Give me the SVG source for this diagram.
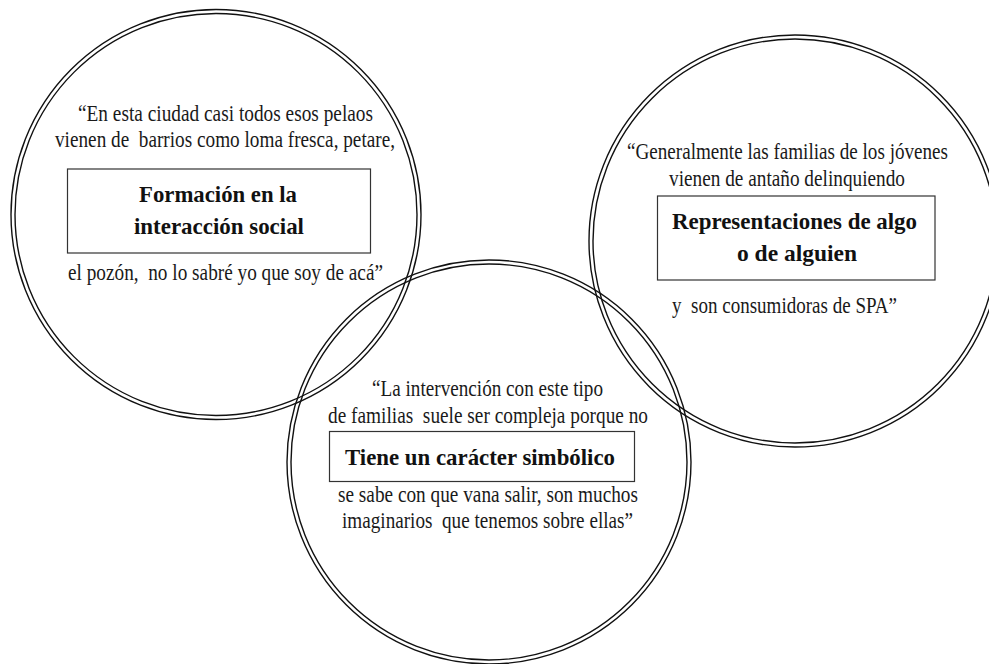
<svg xmlns="http://www.w3.org/2000/svg" width="989" height="664" viewBox="0 0 989 664">
<style>
.ring{fill:none;stroke:#111;stroke-width:1.4}
.box{fill:#fff;stroke:#333;stroke-width:1.2}
text{font-family:'Liberation Serif','Times New Roman','DejaVu Serif',serif;white-space:pre}
.q{font-size:23px;fill:#1a1a1a}
.t{font-size:24px;font-weight:bold;fill:#111}
</style>
<rect width="989" height="664" fill="#fff"/>
<g id="node-formacion" font-family="Liberation Serif, serif">
<circle class="ring" cx="216" cy="214.5" r="205"/>
<circle class="ring" cx="216" cy="214.5" r="201"/>
<text class="q" x="78" y="121" textLength="295" lengthAdjust="spacingAndGlyphs">“En esta ciudad casi todos esos pelaos</text>
<text class="q" x="55" y="147" textLength="340" lengthAdjust="spacingAndGlyphs">vienen de  barrios como loma fresca, petare,</text>
<rect class="box" x="67.5" y="169" width="303" height="84"/>
<text class="t" x="139" y="202" textLength="158" lengthAdjust="spacingAndGlyphs">Formación en la</text>
<text class="t" x="134" y="234" textLength="170" lengthAdjust="spacingAndGlyphs">interacción social</text>
<text class="q" x="68" y="280" textLength="315" lengthAdjust="spacingAndGlyphs">el pozón,  no lo sabré yo que soy de acá”</text>
</g>
<g id="node-representaciones" font-family="Liberation Serif, serif">
<circle class="ring" cx="795" cy="241" r="206"/>
<circle class="ring" cx="795" cy="241" r="202"/>
<text class="q" x="627" y="159" textLength="321" lengthAdjust="spacingAndGlyphs">“Generalmente las familias de los jóvenes</text>
<text class="q" x="669" y="186" textLength="236" lengthAdjust="spacingAndGlyphs">vienen de antaño delinquiendo</text>
<rect class="box" x="657.5" y="196" width="277.5" height="84"/>
<text class="t" x="672" y="229" textLength="245" lengthAdjust="spacingAndGlyphs">Representaciones de algo</text>
<text class="t" x="737" y="261" textLength="120" lengthAdjust="spacingAndGlyphs">o de alguien</text>
<text class="q" x="672" y="313" textLength="225" lengthAdjust="spacingAndGlyphs">y  son consumidoras de SPA”</text>
</g>
<g id="node-simbolico" font-family="Liberation Serif, serif">
<circle class="ring" cx="489" cy="462" r="202"/>
<circle class="ring" cx="489" cy="462" r="198"/>
<text class="q" x="372" y="396" textLength="231" lengthAdjust="spacingAndGlyphs">“La intervención con este tipo</text>
<text class="q" x="328" y="423" textLength="320" lengthAdjust="spacingAndGlyphs">de familias  suele ser compleja porque no</text>
<rect class="box" x="329.5" y="431.5" width="305" height="50"/>
<text class="t" x="345" y="465" textLength="270" lengthAdjust="spacingAndGlyphs">Tiene un carácter simbólico</text>
<text class="q" x="338" y="502" textLength="300" lengthAdjust="spacingAndGlyphs">se sabe con que vana salir, son muchos</text>
<text class="q" x="342" y="528" textLength="291" lengthAdjust="spacingAndGlyphs">imaginarios  que tenemos sobre ellas”</text>
</g>
</svg>
